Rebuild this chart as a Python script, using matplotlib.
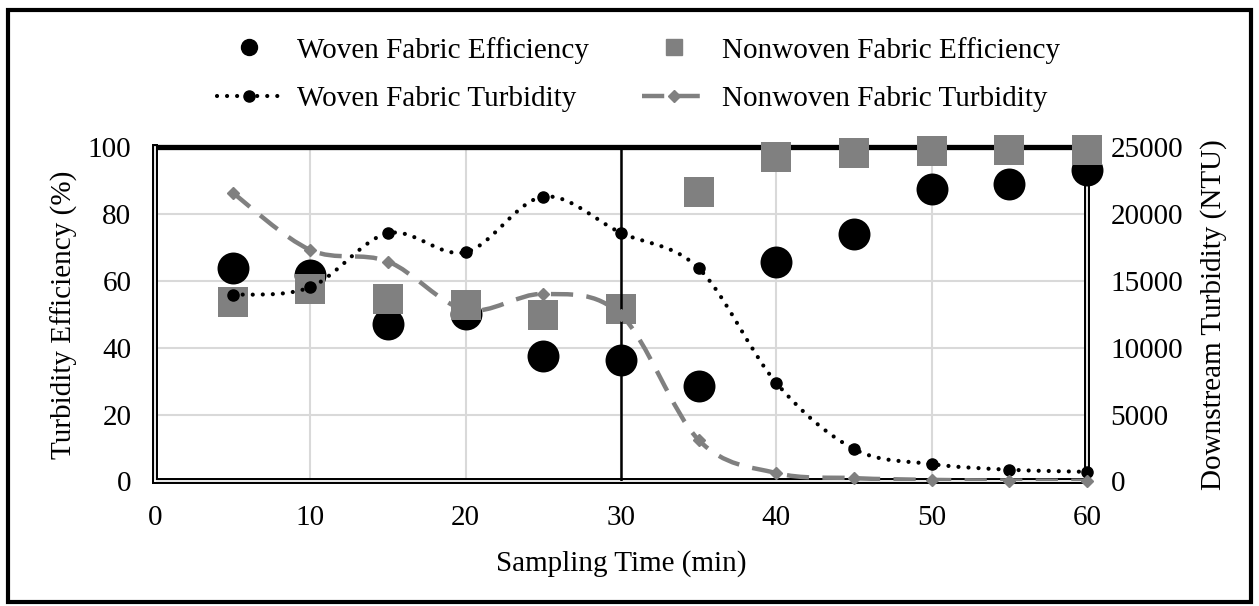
import numpy as np
import matplotlib
matplotlib.use("Agg")
import matplotlib.pyplot as plt
from matplotlib.path import Path
from matplotlib.patches import PathPatch, Rectangle
from matplotlib.lines import Line2D

plt.rcParams['font.family'] = ['Liberation Serif', 'DejaVu Serif']

# sampling times (min)
time = [5, 10, 15, 20, 25, 30, 35, 40, 45, 50, 55, 60]

# turbidity removal efficiency (%)
woven_eff = [63.8, 61.8, 47.2, 50.1, 37.6, 36.4, 28.6, 65.6, 74.0, 87.6, 88.9, 93.2]
nonwoven_eff = [53.8, 57.5, 54.6, 52.8, 49.8, 51.6, 86.7, 97.2, 98.2, 99.0, 99.2, 99.2]

# downstream turbidity (NTU)
woven_turb = [13960, 14530, 18570, 17150, 21310, 18600, 15950, 7370, 2430, 1300, 880, 720]
nonwoven_turb = [21600, 17320, 16450, 12840, 14030, 12460, 3100, 630, 250, 120, 70, 50]

FS = 21
GRAY = '#808080'
DOT = (0, (0.01, 2.4))
DASH = (0, (5.0, 3.0))


def smooth_path(xs, ys):
    # Catmull-Rom style bezier through the points (like a spreadsheet "smoothed line")
    pts = np.column_stack([xs, ys]).astype(float)
    verts = [pts[0]]
    codes = [Path.MOVETO]
    n = len(pts)
    for i in range(n - 1):
        p0 = pts[i - 1] if i > 0 else pts[i]
        p1 = pts[i]
        p2 = pts[i + 1]
        p3 = pts[i + 2] if i + 2 < n else pts[i + 1]
        verts += [p1 + (p2 - p0) / 6, p2 - (p3 - p1) / 6, p2]
        codes += [Path.CURVE4] * 3
    return Path(verts, codes)


fig = plt.figure(figsize=(12.59, 6.06), dpi=100)
ax = fig.add_axes([0.1231, 0.2055, 0.7403, 0.5514])
ax2 = ax.twinx()
ax2.set_zorder(ax.get_zorder() + 1)
ax2.patch.set_visible(False)

# efficiency markers (left axis)
ax.scatter(time, woven_eff, s=23 ** 2, marker='o', color='black', zorder=3, clip_on=False, linewidths=0)
ax.scatter(time, nonwoven_eff, s=21 ** 2, marker='s', color=GRAY, zorder=4, clip_on=False, linewidths=0)

ax.set_xlim(0, 60)
ax.set_ylim(0, 100)
ax.set_xticks(range(0, 61, 10))
ax.set_yticks(range(0, 101, 20))
ax.grid(True, color='#d9d9d9', linewidth=1.5, zorder=0)
ax.set_axisbelow(True)

# frame: heavy top, double lines elsewhere
for s in ax.spines.values():
    s.set_visible(False)
for s in ax2.spines.values():
    s.set_visible(False)
tr = ax.transAxes
ax.plot([0, 1], [1, 1], transform=tr, color='black', lw=3.8, clip_on=False, zorder=2, solid_capstyle='projecting')
for xx, yy in [([0, 0], [0, 1]), ([0, 1], [0, 0]), ([1, 1], [0, 1])]:
    ax.plot(xx, yy, transform=tr, color='black', lw=4.3, clip_on=False, zorder=2, solid_capstyle='projecting')
    ax.plot(xx, yy, transform=tr, color='white', lw=1.3, clip_on=False, zorder=2.1)

ax.axvline(30, color='black', lw=1.8, zorder=6)

# turbidity curves (right axis)
ax2.add_patch(PathPatch(smooth_path(time, woven_turb), fill=False, edgecolor='black',
                        lw=3.0, linestyle=DOT, capstyle='round', zorder=3))
ax2.plot(time, woven_turb, 'o', color='black', ms=8, zorder=4, clip_on=False)
ax2.add_patch(PathPatch(smooth_path(time, nonwoven_turb), fill=False, edgecolor=GRAY,
                        lw=3.2, linestyle=DASH, capstyle='butt', zorder=3))
ax2.plot(time, nonwoven_turb, 'D', color=GRAY, ms=6.5, zorder=4, clip_on=False)
ax2.set_ylim(0, 25000)
ax2.set_yticks(range(0, 25001, 5000))

ax.tick_params(axis='both', length=0, labelsize=FS)
ax.tick_params(axis='x', pad=17)
ax.tick_params(axis='y', pad=17)
ax2.tick_params(axis='y', length=0, labelsize=FS, pad=17)

ax.set_xlabel('Sampling Time (min)', fontsize=FS, labelpad=14)
ax.set_ylabel('Turbidity Efficiency (%)', fontsize=FS, labelpad=7)
ax2.set_ylabel('Downstream Turbidity (NTU)', fontsize=FS, labelpad=12)

handles = [
    Line2D([], [], ls='none', marker='o', color='black', ms=11.5),
    Line2D([], [], color='black', lw=3.0, ls=DOT, dash_capstyle='round',
           marker='o', ms=8),
    Line2D([], [], ls='none', marker='s', color=GRAY, ms=12),
    Line2D([], [], color=GRAY, lw=3.2, ls=DASH, marker='D', ms=6.5),
]
labels = ['Woven Fabric Efficiency', 'Woven Fabric Turbidity',
          'Nonwoven Fabric Efficiency', 'Nonwoven Fabric Turbidity']
fig.legend(handles, labels, loc='upper center', bbox_to_anchor=(0.507, 0.983), ncol=2,
           frameon=False, fontsize=FS, handlelength=2.2, handletextpad=0.55,
           columnspacing=1.8, labelspacing=0.76)

# outer border
fig.patches.append(Rectangle((0.0065, 0.006), 0.987, 0.978, transform=fig.transFigure,
                             fill=False, edgecolor='black', lw=3))

fig.savefig('out.png', dpi=100)
